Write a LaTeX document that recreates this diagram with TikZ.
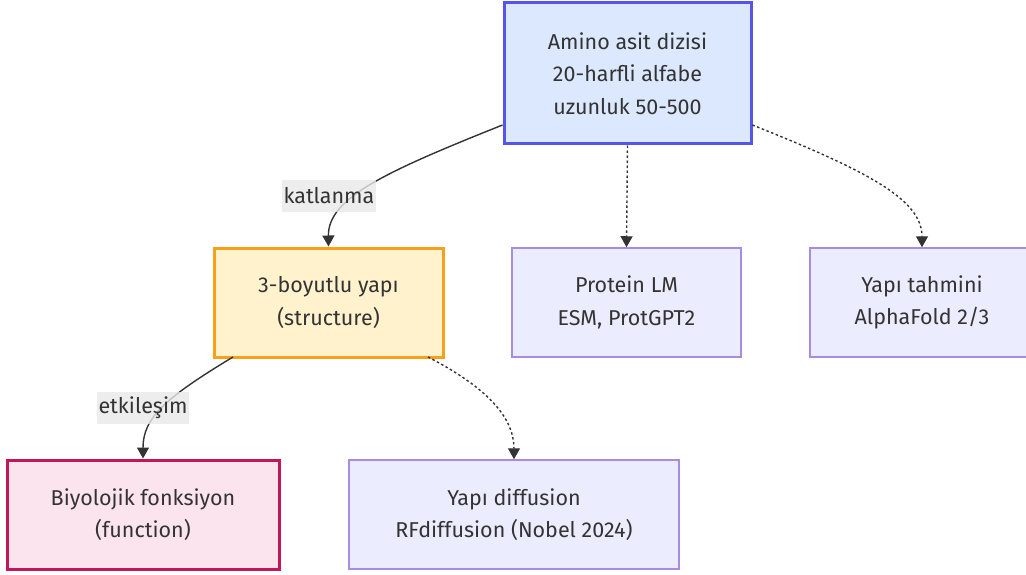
\documentclass[tikz,border=0pt]{standalone}
\usepackage{fontspec}
\setmainfont{Fira Sans}
\usetikzlibrary{arrows.meta}
\definecolor{ink}{HTML}{333333}
\definecolor{seqfill}{HTML}{DCE8FD}
\definecolor{seqdraw}{HTML}{5555EE}
\definecolor{strfill}{HTML}{FFF2CC}
\definecolor{strdraw}{HTML}{F7A11A}
\definecolor{funfill}{HTML}{FCE4EF}
\definecolor{fundraw}{HTML}{C2185B}
\definecolor{deffill}{HTML}{ECECFF}
\definecolor{defdraw}{HTML}{A88BE2}
\definecolor{lblfill}{HTML}{E8E8E8}
\tikzset{
  box/.style={rectangle, minimum height=109pt, align=center, text=ink,
    font=\fontsize{21.5}{32.5}\selectfont, inner sep=0pt},
  defbox/.style={box, fill=deffill, draw=defdraw, line width=1.5pt},
  edgelbl/.style={fill=lblfill, fill opacity=0.8, text opacity=1, text=ink,
    font=\fontsize{21.5}{24}\selectfont, inner sep=2pt, minimum height=32pt},
  solidedge/.style={draw=ink, line width=1.4pt, -{Triangle[length=11pt,width=12pt]}},
  dottededge/.style={draw=ink, line width=1.4pt, dash pattern=on 2.5pt off 2.5pt,
    -{Triangle[length=11pt,width=12pt]}},
}
\begin{document}
\begin{tikzpicture}[x=1pt,y=-1pt]
\useasboundingbox (0,0) rectangle (1026,575);
\clip (0,0) rectangle (1026,575);

% nodes
\node[box, fill=seqfill, draw=seqdraw, line width=3pt, minimum width=247pt, minimum height=141pt]
  (seq) at (627.5,73.5) {Amino asit dizisi\\20-harfli alfabe\\uzunluk 50-500};
\node[box, fill=strfill, draw=strdraw, line width=3pt, minimum width=229pt]
  (str) at (328.5,302.5) {3-boyutlu yapı\\(structure)};
\node[defbox, minimum width=229pt] (plm) at (626.5,302.5) {Protein LM\\ESM, ProtGPT2};
\node[defbox, minimum width=224pt] (pred) at (922,302.5) {Yapı tahmini\\AlphaFold 2/3};
\node[box, fill=funfill, draw=fundraw, line width=3pt, minimum width=272pt]
  (fun) at (143,514.5) {Biyolojik fonksiyon\\(function)};
\node[defbox, minimum width=330pt] (dif) at (514,514.5) {Yapı diffusion\\RFdiffusion (Nobel 2024)};

% connectors
\draw[solidedge] (seq.west |- 0,125) .. controls (385,172) and (328,198) .. (str.north);
\draw[dottededge] (seq.south) -- (plm.north);
\draw[dottededge] (seq.east |- 0,125) .. controls (870,172) and (922,200) .. (pred.north);
\draw[solidedge] (233,357) .. controls (165,398) and (143,418) .. (fun.north);
\draw[dottededge] (428,357) .. controls (488,388) and (514,418) .. (dif.north);

% edge labels
\node[edgelbl] (lkat) at (329,196) {katlanma};
\node[edgelbl] (letk) at (143,408) {etkileşim};
\end{tikzpicture}
\end{document}
